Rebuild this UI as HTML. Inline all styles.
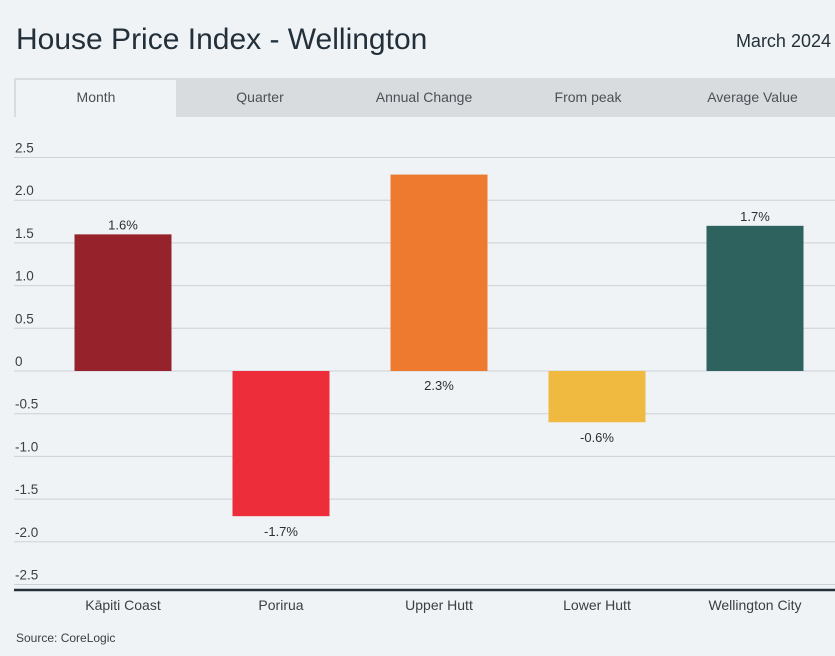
<!DOCTYPE html>
<html><head><meta charset="utf-8">
<style>
body{margin:0;width:835px;height:656px;background:#eff3f5;font-family:"Liberation Sans",sans-serif;color:#2a2f33;overflow:hidden;position:relative}
.t{position:absolute;white-space:nowrap}
#tabs{position:absolute;left:14px;top:78px;width:821px;height:39px;background:#d9dcdf}
.tab{position:absolute;top:0;height:39px;line-height:39px;text-align:center;font-size:14px;color:#4a5055}
.tab.active{background:#eff3f5;top:2px;height:37px;line-height:35px;left:2px}
</style></head><body>
<div class="t" style="left:16px;top:23px;font-size:30px;color:#23303a">House Price Index - Wellington</div>
<div class="t" style="right:4px;top:31px;font-size:18px;color:#23303a">March 2024</div>
<div id="tabs">
<div class="tab active" style="width:160px">Month</div>
<div class="tab" style="left:164px;width:164px">Quarter</div>
<div class="tab" style="left:328px;width:164px">Annual Change</div>
<div class="tab" style="left:492px;width:164px">From peak</div>
<div class="tab" style="left:656px;width:165px">Average Value</div>
</div>
<svg id="chart" width="835" height="656" style="position:absolute;left:0;top:0" font-family="Liberation Sans, sans-serif"></svg>
<div class="t" style="left:16px;top:631px;font-size:12px;color:#3a3f44">Source: CoreLogic</div>
<script>
const categories=["Kāpiti Coast","Porirua","Upper Hutt","Lower Hutt","Wellington City"];
const values=[1.6,-1.7,2.3,-0.6,1.7];
const valueLabels=["1.6%","-1.7%","2.3%","-0.6%","1.7%"];
const colors=["#96232b","#ee2d3a","#ee7a2f","#f0b93f","#2d625e"];
const tickValues=[2.5,2.0,1.5,1.0,0.5,0,-0.5,-1.0,-1.5,-2.0,-2.5];
const tickLabels=["2.5","2.0","1.5","1.0","0.5","0","-0.5","-1.0","-1.5","-2.0","-2.5"];
const svg=document.getElementById('chart');
const NS='http://www.w3.org/2000/svg';
const y0=371,unit=85.4;
function yScale(v){return y0-v*unit;}
function xCenter(i){return 123+i*158;}
function mk(tag,attrs,txt){const e=document.createElementNS(NS,tag);for(const k in attrs)e.setAttribute(k,attrs[k]);if(txt!==undefined)e.textContent=txt;svg.appendChild(e);return e;}
tickValues.forEach((v,i)=>{
  const y=yScale(v);
  const g=mk('line',{x1:14,x2:835,y1:y,y2:y,stroke:'#cdd2d6','stroke-width':1});
  
  
  const t=mk('text',{x:15,y:y-5,'font-size':13.5,fill:'#3a3f44'},tickLabels[i]);
  
  
});
values.forEach((v,i)=>{
  const cx=xCenter(i),w=97;
  const top=Math.min(yScale(v),y0),h=Math.abs(yScale(v)-y0);
  const r=mk('rect',{x:cx-w/2,y:top,width:w,height:h,fill:colors[i]});
  
  
  let ly;
  if(v<0) ly=yScale(v)+20;
  else if(yScale(v)<190) ly=y0+19;
  else ly=yScale(v)-5;
  const t=mk('text',{x:cx,y:ly,'font-size':13,fill:'#2a2f33','text-anchor':'middle'},valueLabels[i]);
  
  
  const c=mk('text',{x:cx,y:610,'font-size':14,fill:'#3a3f44','text-anchor':'middle'},categories[i]);
  
  
});
const ax=mk('line',{x1:14,x2:835,y1:590,y2:590,stroke:'#23303a','stroke-width':2.5});


</script>
</body></html>
